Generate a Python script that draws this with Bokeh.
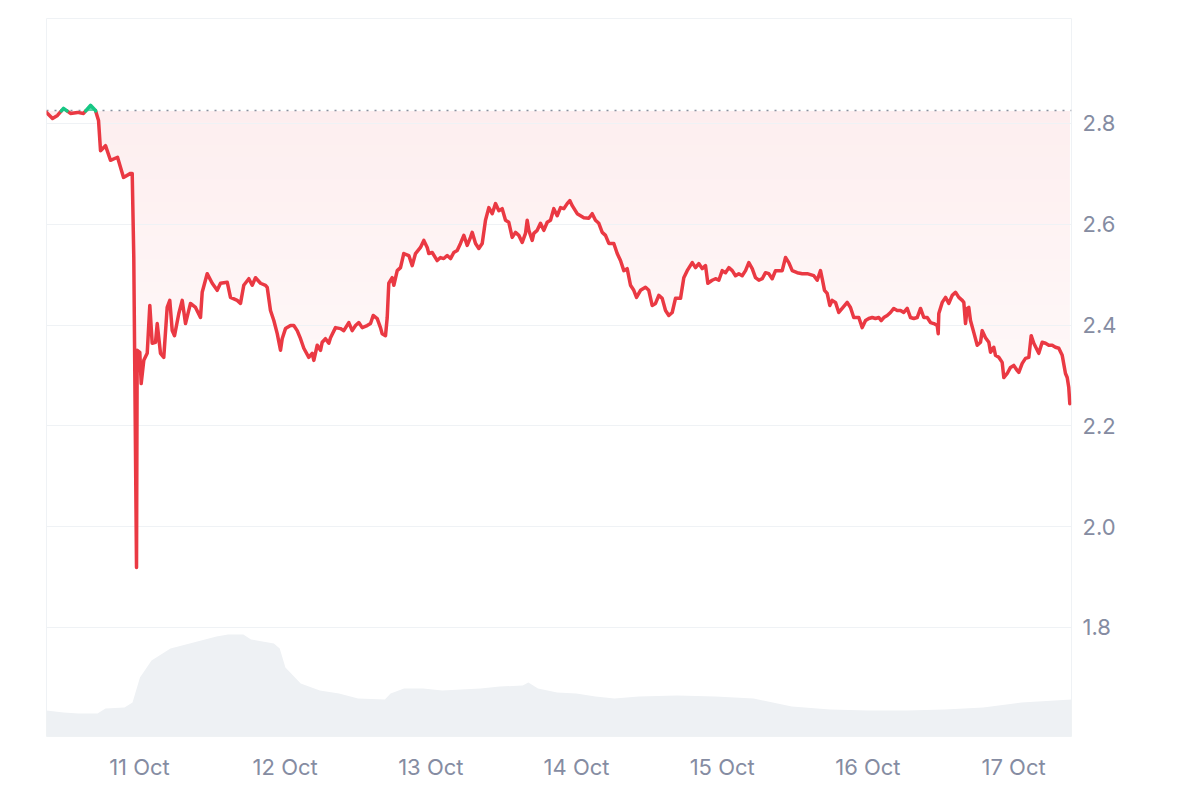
import numpy as np
import pandas as pd
from bokeh.plotting import figure
from bokeh.models import Range1d, FixedTicker, PrintfTickFormatter, DatetimeTickFormatter
from bokeh.embed import file_html
from bokeh.resources import INLINE

# ---------------- data ----------------
start = pd.Timestamp("2025-10-10 08:41")
end_hours = 168.86

hours = [0, 0.99, 1.81, 2.80, 3.95, 5.11, 6.10, 7.25, 8.07, 8.57, 8.90, 9.72, 10.54, 11.70, 12.69, 13.84, 14.12, 14.38, 14.83, 14.94,
         15.37, 15.60, 16.03, 16.59, 17.02, 17.41, 17.96, 18.24, 18.78, 19.32, 19.88, 20.31, 20.71, 21.09, 21.80, 22.36, 22.90, 23.72,
         24.55, 25.37, 25.65, 26.47, 27.30, 28.12, 28.67, 29.77, 30.31, 31.42, 31.96, 32.50, 33.33, 33.89, 34.43, 35.26, 36.08, 36.36,
         36.90, 37.45, 38.01, 38.55, 38.83, 39.37, 40.20, 40.74, 41.30, 41.85, 42.39, 43.21, 43.77, 44.04, 44.60, 45.14, 45.42, 45.96,
         46.51, 46.79, 47.61, 48.43, 48.98, 49.80, 50.36, 50.91, 51.45, 52.01, 52.83, 53.38, 53.82, 54.48, 55.02, 55.30, 55.85, 56.13,
         56.39, 56.95, 57.22, 57.78, 58.32, 58.86, 59.69, 60.25, 60.79, 61.61, 62.16, 62.72, 62.98, 63.54, 64.36, 64.91, 65.45, 66.01,
         66.56, 67.10, 67.66, 68.20, 68.75, 69.31, 69.85, 70.13, 70.68, 71.22, 71.78, 72.32, 72.87, 73.43, 73.97, 74.52, 75.07, 75.62,
         76.16, 76.72, 77.26, 77.81, 78.37, 78.91, 79.19, 79.46, 80.02, 80.28, 80.84, 81.38, 81.93, 82.49, 83.03, 83.57, 84.13, 84.68,
         85.22, 85.78, 86.21, 86.61, 87.43, 88.52, 89.34, 89.90, 90.44, 90.99, 91.55, 92.09, 92.64, 93.46, 94.02, 94.56, 95.11, 95.66,
         96.21, 96.75, 97.20, 97.86, 98.68, 99.22, 99.78, 100.33, 100.87, 101.43, 101.98, 102.52, 103.08, 103.62, 104.45, 104.99,
         105.55, 106.38, 106.92, 107.46, 108.02, 108.57, 108.95, 109.67, 110.21, 110.76, 111.32, 111.86, 112.41, 112.97, 113.51,
         114.05, 114.61, 115.16, 115.70, 116.26, 116.80, 117.35, 117.91, 118.45, 118.99, 119.55, 120.10, 121.20, 121.75, 122.29,
         122.85, 123.67, 124.50, 125.32, 125.86, 126.41, 126.97, 127.51, 127.79, 128.17, 128.61, 129.04, 129.43, 129.98, 130.52,
         131.08, 131.91, 132.45, 132.99, 133.82, 134.38, 134.93, 135.47, 136.03, 136.57, 137.12, 137.51, 137.94, 138.50, 139.04,
         139.58, 140.15, 140.69, 141.23, 141.79, 142.34, 142.88, 143.44, 143.99, 144.53, 145.09, 145.63, 146.18, 146.74, 146.90,
         147.00, 147.56, 148.11, 148.65, 149.21, 149.75, 150.30, 150.86, 151.12, 151.40, 151.68, 151.94, 152.22, 152.77, 153.33,
         153.87, 154.15, 154.69, 155.24, 155.52, 156.06, 156.34, 156.88, 157.44, 157.71, 158.27, 158.81, 159.35, 159.91, 160.18,
         160.74, 161.28, 161.83, 162.22, 162.65, 163.47, 164.03, 164.58, 165.12, 165.68, 166.22, 166.77, 167.33, 167.87, 168.15,
         168.41, 168.58]

price = [2.822, 2.810, 2.816, 2.830, 2.820, 2.822, 2.820, 2.836, 2.826, 2.806, 2.746, 2.756, 2.727, 2.733, 2.693, 2.701, 2.701,
         2.534, 1.919, 2.350, 2.346, 2.284, 2.330, 2.344, 2.439, 2.364, 2.366, 2.403, 2.344, 2.336, 2.435, 2.449, 2.389, 2.379,
         2.423, 2.449, 2.403, 2.443, 2.435, 2.415, 2.465, 2.502, 2.483, 2.469, 2.483, 2.485, 2.455, 2.449, 2.443, 2.479, 2.492,
         2.479, 2.494, 2.483, 2.479, 2.475, 2.429, 2.409, 2.383, 2.350, 2.373, 2.393, 2.399, 2.399, 2.389, 2.373, 2.354, 2.336,
         2.344, 2.330, 2.360, 2.350, 2.366, 2.373, 2.364, 2.375, 2.395, 2.393, 2.389, 2.405, 2.389, 2.399, 2.405, 2.395, 2.399,
         2.403, 2.419, 2.413, 2.395, 2.383, 2.379, 2.415, 2.483, 2.494, 2.479, 2.508, 2.514, 2.542, 2.538, 2.518, 2.542, 2.554,
         2.568, 2.554, 2.542, 2.544, 2.528, 2.534, 2.532, 2.538, 2.532, 2.544, 2.548, 2.562, 2.578, 2.558, 2.574, 2.584, 2.562,
         2.552, 2.562, 2.608, 2.633, 2.621, 2.641, 2.627, 2.631, 2.608, 2.604, 2.574, 2.584, 2.578, 2.564, 2.582, 2.608, 2.588,
         2.568, 2.582, 2.588, 2.602, 2.588, 2.604, 2.608, 2.631, 2.617, 2.633, 2.631, 2.641, 2.647, 2.637, 2.621, 2.613, 2.612,
         2.621, 2.608, 2.602, 2.584, 2.578, 2.562, 2.562, 2.542, 2.528, 2.508, 2.512, 2.479, 2.469, 2.455, 2.469, 2.475, 2.469,
         2.439, 2.443, 2.459, 2.453, 2.429, 2.419, 2.425, 2.453, 2.453, 2.494, 2.508, 2.524, 2.514, 2.522, 2.512, 2.518, 2.483,
         2.489, 2.492, 2.489, 2.508, 2.504, 2.514, 2.508, 2.498, 2.502, 2.498, 2.508, 2.524, 2.512, 2.494, 2.489, 2.492, 2.504,
         2.502, 2.492, 2.508, 2.508, 2.534, 2.524, 2.508, 2.504, 2.502, 2.502, 2.500, 2.498, 2.489, 2.508, 2.492, 2.469, 2.463,
         2.439, 2.449, 2.445, 2.425, 2.433, 2.445, 2.435, 2.415, 2.415, 2.395, 2.409, 2.413, 2.415, 2.413, 2.415, 2.409, 2.415,
         2.419, 2.425, 2.433, 2.429, 2.429, 2.425, 2.433, 2.415, 2.413, 2.415, 2.433, 2.415, 2.415, 2.405, 2.403, 2.399, 2.383,
         2.423, 2.445, 2.455, 2.443, 2.459, 2.465, 2.455, 2.449, 2.445, 2.403, 2.433, 2.435, 2.409, 2.385, 2.360, 2.366, 2.389,
         2.375, 2.366, 2.346, 2.356, 2.340, 2.336, 2.326, 2.296, 2.304, 2.316, 2.320, 2.310, 2.306, 2.324, 2.334, 2.336, 2.379,
         2.364, 2.344, 2.366, 2.364, 2.360, 2.360, 2.356, 2.354, 2.340, 2.304, 2.296, 2.276, 2.244]

vol_hours = [0, 2.80, 5.27, 8.40, 9.72, 12.85, 14.17, 15.40, 17.30, 20.43, 24.22, 28.01, 29.90, 32.42, 33.69, 37.46, 38.42,
             39.36, 41.88, 45.02, 48.19, 51.33, 55.75, 56.69, 58.90, 62.05, 65.20, 68.35, 71.51, 74.66, 78.45, 79.38, 80.97,
             84.12, 87.27, 90.43, 93.57, 97.58, 103.87, 110.18, 116.49, 119.64, 122.78, 129.09, 135.40, 141.70, 148.01,
             154.32, 160.61, 168.86]
volume = [130, 120, 115, 115, 140, 145, 170, 295, 380, 440, 470, 500, 510, 510, 485, 465, 440,
          345, 265, 230, 215, 190, 185, 215, 240, 240, 230, 235, 240, 250, 255, 270, 240,
          220, 215, 200, 190, 200, 205, 200, 190, 170, 150, 135, 130, 130, 135,
          145, 170, 185]

baseline = 2.825
y_ticks = [1.8, 2.0, 2.2, 2.4, 2.6, 2.8]
day_ticks = pd.date_range("2025-10-11", "2025-10-17", freq="D")

RED = (234, 57, 67)
RED_HEX = "#ea3943"
GREEN = "#16c784"
LABEL = "#858ca2"
GRID = "#eff2f5"

# ---------------- prep ----------------
n = min(len(hours), len(price))
h = np.array(hours[:n], dtype=float)
pr = np.array(price[:n], dtype=float)

hh = [h[0]]
pp = [pr[0]]
for i in range(1, n):
    a, b = pr[i - 1] - baseline, pr[i] - baseline
    if a * b < 0:
        f = a / (a - b)
        hh.append(h[i - 1] + f * (h[i] - h[i - 1]))
        pp.append(baseline)
    hh.append(h[i])
    pp.append(pr[i])
hh = np.array(hh)
pp = np.array(pp)

def to_time(hrs):
    return (start + pd.to_timedelta(np.asarray(hrs), unit="h")).values

xt = to_time(hh)
xv = to_time(vol_hours)

red_y = np.where(pp <= baseline + 1e-9, pp, np.nan)
green_y = np.where(pp >= baseline - 1e-9, pp, np.nan)

def tint(alpha):
    r, g, b = (int(round(255 - alpha * (255 - c))) for c in RED)
    return "#%02x%02x%02x" % (r, g, b)

# ---------------- figure ----------------
x0 = start.to_datetime64()
x1 = (start + pd.Timedelta(hours=end_hours)).to_datetime64()
p = figure(x_axis_type="datetime", y_axis_location="right",
           frame_width=1025, frame_height=718,
           min_border_left=46, min_border_top=18, min_border_right=100, min_border_bottom=50,
           toolbar_location=None, output_backend="svg",
           x_range=Range1d(x0, x1), y_range=Range1d(1.5837, 3.0083))
p.background_fill_color = "white"
p.border_fill_color = "white"
p.outline_line_color = GRID
p.outline_line_width = 1

p.extra_y_ranges = {"vol": Range1d(0, 3590)}

# volume area
p.varea(x=xv, y1=0, y2=np.array(volume, dtype=float), y_range_name="vol",
        fill_color="#eef1f4", fill_alpha=1.0)

# gradient fill between price and baseline (opaque bands, darkest near baseline)
pmin = float(np.min(pr))
N = 40
for k in range(N, 0, -1):
    lev = baseline - (baseline - pmin) * k / N
    alpha = 0.085 * (1 - (k - 0.5) / N)
    y1 = np.minimum(np.maximum(pp, lev), baseline)
    p.varea(x=xt, y1=y1, y2=baseline, fill_color=tint(alpha), fill_alpha=1.0)

# green fill above baseline
p.varea(x=xt, y1=baseline, y2=np.maximum(pp, baseline), fill_color=GREEN, fill_alpha=0.7)

# horizontal grid lines drawn over the fills
p.hspan(y=y_ticks, line_color=GRID, line_width=1)

# baseline (dotted)
p.hspan(y=[baseline], line_color="#8a919e", line_dash="2 6", line_width=1.5)

# price lines
p.line(x=xt, y=red_y, line_color=RED_HEX, line_width=3.5, line_join="round", line_cap="round")
p.line(x=xt, y=green_y, line_color=GREEN, line_width=3.5, line_join="round", line_cap="round")

# axes
p.xaxis.ticker = FixedTicker(ticks=[t.value / 1e6 for t in day_ticks])
p.xaxis.formatter = DatetimeTickFormatter(days="%d Oct", months="%d Oct", hours="%d Oct")
p.yaxis.ticker = FixedTicker(ticks=y_ticks)
p.yaxis.formatter = PrintfTickFormatter(format="%.1f")
for ax in (p.xaxis, p.yaxis):
    ax.axis_line_color = None
    ax.major_tick_line_color = None
    ax.minor_tick_line_color = None
    ax.major_tick_out = 0
    ax.major_tick_in = 0
    ax.minor_tick_out = 0
    ax.minor_tick_in = 0
    ax.major_label_text_color = LABEL
    ax.major_label_text_font = "Inter"
    ax.major_label_text_font_size = "22px"
p.xaxis.major_label_standoff = 17
p.yaxis.major_label_standoff = 11

p.xgrid.grid_line_color = None
p.ygrid.grid_line_color = None

open("out.html", "w").write(file_html(p, INLINE))
